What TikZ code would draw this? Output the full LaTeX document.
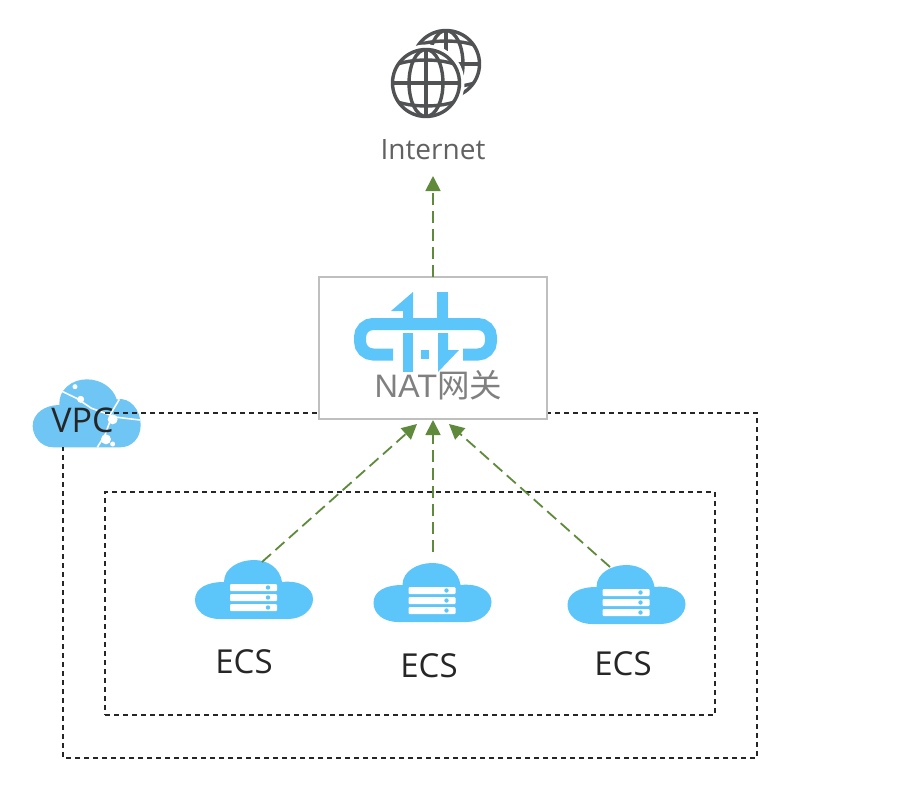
\documentclass[tikz,border=0pt]{standalone}
\usepackage{fontspec}
\setmainfont{Open Sans}
\newfontfamily\cjkfont{Noto Sans CJK SC}
\newfontfamily\arialfont{Liberation Sans}
\usetikzlibrary{arrows.meta,calc}
\definecolor{cloudblue}{HTML}{5CC6FA}
\definecolor{vpcblue}{HTML}{6FC5F3}
\definecolor{arrowgreen}{HTML}{5F8A3C}
\definecolor{globegrey}{HTML}{505254}
\tikzset{
  flow/.style={draw=arrowgreen,line width=1.8pt,dash pattern=on 12pt off 6pt,
    -{Triangle[length=15pt,width=15pt,fill=arrowgreen]}},
  zone/.style={draw=black!85,line width=1.2pt,dash pattern=on 5pt off 4pt},
  lbl/.style={inner sep=0pt,outer sep=0pt,font=\fontsize{33}{33}\selectfont,text=black!85},
  ecsanchor/.style={minimum width=118pt,minimum height=60pt,inner sep=0pt,outer sep=0pt},
  globeline/.style={draw=globegrey,line width=3.4pt},
  ecscloud/.pic={
    \fill[cloudblue] (-34,29) .. controls (-50,29) and (-59,20) .. (-59,10)
      .. controls (-59,-2) and (-47,-8) .. (-30,-8)
      .. controls (-30,-22) and (-15,-30) .. (0,-30)
      .. controls (14,-30) and (26,-22) .. (28,-8)
      .. controls (46,-10) and (59,-2) .. (59,9)
      .. controls (59,20) and (48,29) .. (34,29) -- cycle;
    \foreach \yy in {-6,4,14}{
      \fill[white,rounded corners=1pt] (-24,\yy) rectangle (23,\yy+7);
      \fill[cloudblue] (14,\yy+3.5) circle (2.2pt);
    }
  },
  globe/.pic={
    \begin{scope}
      \clip (0,0) circle (33.5pt);
      \draw[globeline] (-34,0) -- (34,0);
      \draw[globeline] (0,-34) -- (0,34);
      \draw[globeline] (0,0) ellipse [x radius=17pt,y radius=33.5pt];
      \draw[globeline] (-34,-17) .. controls (-15,-25) and (15,-25) .. (34,-17);
      \draw[globeline] (-34,17) .. controls (-15,25) and (15,25) .. (34,17);
    \end{scope}
    \draw[globeline] (0,0) circle (33.5pt);
  }
}
\begin{document}
\begin{tikzpicture}[x=1pt,y=-1pt]
\useasboundingbox[fill=white] (0,0) rectangle (900,808);

% globes
\pic at (446,64) {globe};
\fill[white] (426,83) circle (38.5pt);
\pic at (426,83) {globe};
\node[lbl,minimum height=52pt,text=black!62,font=\fontsize{28}{28}\selectfont] (internet) at (433,150) {Internet};

% VPC cloud
\begin{scope}[shift={(20,370)},x=0.3333pt,y=-0.3333pt]
  \fill[vpcblue] (100,232) .. controls (60,232) and (38,195) .. (38,168)
    .. controls (38,130) and (75,105) .. (118,105)
    .. controls (115,60) and (155,28) .. (200,28)
    .. controls (245,28) and (280,55) .. (290,88)
    .. controls (330,80) and (362,120) .. (362,165)
    .. controls (362,205) and (335,232) .. (300,232) -- cycle;
  \draw[white,line width=1.6pt,line join=round]
    (122,62) -- (170,85) -- (215,115) -- (270,135) -- (298,88);
  \draw[white,line width=1.6pt,line join=round]
    (275,140) -- (360,150);
  \draw[white,line width=1.6pt,line join=round]
    (275,140) -- (255,195) -- (232,232);
  \fill[white] (165,50) circle (2.5pt);
  \fill[white] (182,88) circle (3.5pt);
  \fill[white] (278,148) circle (5pt);
  \fill[white] (258,208) circle (5pt);
  \fill[white] (278,222) circle (2.5pt);
\end{scope}

% dashed zones
\coordinate (vpcstart) at (105,413);
\coordinate (vpcend) at (63,447);
\draw[zone] (vpcstart) -- (757,413) -- (757,758) -- (63,758) -- (vpcend);
\node[inner sep=0pt,outer sep=0pt,minimum width=610pt,minimum height=223pt,zone] (subnet) at (410,603.5) {};

% NAT box
\node[draw=black!25,fill=white,line width=1.5pt,inner sep=0pt,outer sep=0pt,minimum width=228pt,minimum height=142pt] (nat) at (433,348) {};

% NAT icon
\draw[cloudblue,line width=12pt,rounded corners=13pt] (393,354.5) -- (360,354.5) -- (360,324) -- (491,324) -- (491,354.5) -- (463,354.5);
\fill[cloudblue] (413,292) -- (391,311) -- (403,311) -- (403,318) -- (413,318) -- cycle;
\fill[cloudblue] (403,333) rectangle (413,372);
\fill[cloudblue] (437,292) rectangle (448,318);
\fill[cloudblue] (438,333) -- (448,333) -- (448,350) -- (459,350) -- (438,372) -- cycle;
\fill[cloudblue] (421,350) rectangle (429,359);
\node[inner sep=0pt,outer sep=0pt,text=black!50,font=\fontsize{32.5}{33}\selectfont] (natlabel) at (438.5,385) {\arialfont NAT\cjkfont 网关};

% ECS clouds
\pic at (254,590) {ecscloud};
\pic at (432.5,593) {ecscloud};
\pic at (626.5,595) {ecscloud};
\node[ecsanchor] (ecsA) at (254,590) {};
\node[ecsanchor] (ecsB) at (432.5,593) {};
\node[ecsanchor] (ecsC) at (626.5,595) {};
\node[lbl] (ecsAlabel) at (244,662) {ECS};
\node[lbl] (ecsBlabel) at (429,666) {ECS};
\node[lbl] (ecsClabel) at (623,664) {ECS};
\node[lbl,font=\fontsize{34}{34}\selectfont] (vpclabel) at (82.5,420) {VPC};

% connectors
\coordinate (natL) at ($(nat.south)+(-16,5)$);
\coordinate (natM) at ($(nat.south)+(0,1)$);
\coordinate (natR) at ($(nat.south)+(16,5)$);
\coordinate (ecsAtop) at ($(ecsA.north)+(8,2)$);
\coordinate (ecsBtop) at ($(ecsB.north)+(0.5,-11)$);
\coordinate (ecsCtop) at ($(ecsC.north)+(-16.5,2)$);
\draw[flow] (nat.north) -- (internet.south);
\draw[flow] (ecsAtop) -- (natL);
\draw[flow] (ecsBtop) -- (natM);
\draw[flow] (ecsCtop) -- (natR);
\end{tikzpicture}
\end{document}
